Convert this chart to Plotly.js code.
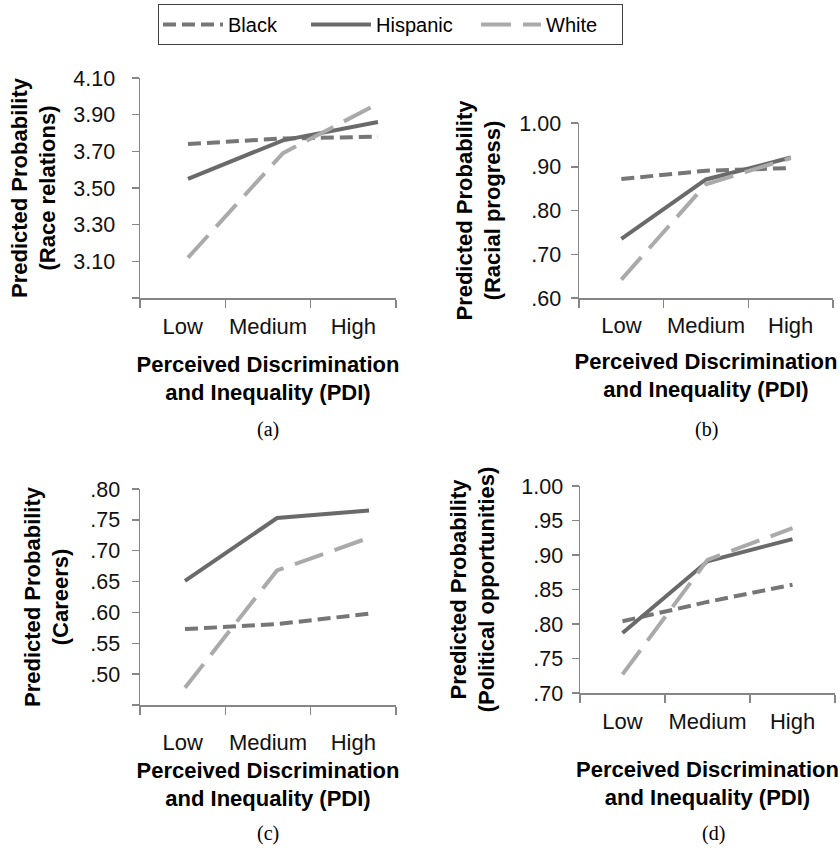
<!DOCTYPE html>
<html><head><meta charset="utf-8">
<script src="https://cdn.plot.ly/plotly-3.0.1.min.js"></script>
<style>html,body{margin:0;padding:0;background:#fff}#chart{width:840px;height:852px}</style>
</head><body><div id="chart"></div>
<script>
const categories = ['Low', 'Medium', 'High'];
const groups = ['Black', 'Hispanic', 'White'];
const xTitle = 'Perceived Discrimination<br>and Inequality (PDI)';
const panelLabels = ['(a)', '(b)', '(c)', '(d)'];

// (a) Race relations
const raceTitle = 'Predicted Probability<br>(Race relations)';
const raceBlack = [3.74, 3.77, 3.78];
const raceHispanic = [3.55, 3.76, 3.86];
const raceWhite = [3.12, 3.69, 3.96];
const raceTicks = [2.9, 3.1, 3.3, 3.5, 3.7, 3.9, 4.1];
const raceTickText = ['', '3.10', '3.30', '3.50', '3.70', '3.90', '4.10'];

// (b) Racial progress
const progressTitle = 'Predicted Probability<br>(Racial progress)';
const progressBlack = [0.872, 0.891, 0.897];
const progressHispanic = [0.735, 0.871, 0.921];
const progressWhite = [0.642, 0.860, 0.920];
const progressTicks = [0.6, 0.7, 0.8, 0.9, 1.0];
const progressTickText = ['.60', '.70', '.80', '.90', '1.00'];

// (c) Careers
const careersTitle = 'Predicted Probability<br>(Careers)';
const careersBlack = [0.573, 0.581, 0.598];
const careersHispanic = [0.651, 0.753, 0.765];
const careersWhite = [0.478, 0.668, 0.721];
const careersTicks = [0.45, 0.50, 0.55, 0.60, 0.65, 0.70, 0.75, 0.80];
const careersTickText = ['', '.50', '.55', '.60', '.65', '.70', '.75', '.80'];

// (d) Political opportunities
const politicalTitle = 'Predicted Probability<br>(Political opportunities)';
const politicalBlack = [0.804, 0.832, 0.857];
const politicalHispanic = [0.787, 0.891, 0.923];
const politicalWhite = [0.727, 0.893, 0.939];
const politicalTicks = [0.70, 0.75, 0.80, 0.85, 0.90, 0.95, 1.00];
const politicalTickText = ['.70', '.75', '.80', '.85', '.90', '.95', '1.00'];

const FONT = 'Liberation Sans, Arial, sans-serif';
const AXC = '#868686';
const styles = {
  Black: {color: '#767676', width: 4, dash: '13px,6px'},
  Hispanic: {color: '#6a6a6a', width: 4, dash: 'solid'},
  White: {color: '#aaaaaa', width: 4, dash: '30px,12px'}
};
const legendWidths = {Black: 73, Hispanic: 95, White: 71};

const data = [];
function addPanel(series, xa, ya, mainX, showLegend) {
  if (mainX) {
    data.push({x: categories, y: [null, null, null], xaxis: mainX, yaxis: ya,
      type: 'scatter', mode: 'lines', showlegend: false, hoverinfo: 'skip'});
  }
  groups.forEach((g, i) => {
    data.push({x: categories, y: series[i], xaxis: xa, yaxis: ya, type: 'scatter',
      mode: 'lines', name: g, line: styles[g], showlegend: showLegend, legendgroup: g,
      legendwidth: legendWidths[g]});
  });
}
addPanel([raceBlack, raceHispanic, raceWhite], 'x5', 'y', 'x', true);
addPanel([progressBlack, progressHispanic, progressWhite], 'x2', 'y2', null, false);
addPanel([careersBlack, careersHispanic, careersWhite], 'x6', 'y3', 'x3', false);
addPanel([politicalBlack, politicalHispanic, politicalWhite], 'x4', 'y4', null, false);

const W = 840, H = 852;
function px(a, b) { return [a / W, b / W]; }
function py(top, bottom) { return [1 - bottom / H, 1 - top / H]; }

function xAxis(domain, anchor, labStand, titleStand) {
  return {domain, anchor, type: 'category', categoryorder: 'array', categoryarray: categories,
    range: [-0.5, 2.5], tickson: 'boundaries', ticks: 'outside', ticklen: 8, tickwidth: 1.5,
    tickangle: 0, tickcolor: AXC, showline: true, linecolor: AXC, linewidth: 1.5, showgrid: false,
    zeroline: false, fixedrange: true, ticklabelstandoff: labStand,
    tickfont: {family: FONT, size: 22, color: '#111'},
    title: {text: xTitle, standoff: titleStand, font: {family: FONT, size: 22, weight: 'bold', color: '#000'}}};
}
function overlayX(over, anchor, range) {
  return {overlaying: over, anchor, type: 'category', categoryorder: 'array', categoryarray: categories,
    range, visible: false, fixedrange: true};
}
function yAxis(domain, anchor, range, tickvals, ticktext, title, labStand, titleStand) {
  return {domain, anchor, range, tickmode: 'array', tickvals, ticktext, ticks: 'outside',
    ticklen: 7, tickwidth: 1.5, tickcolor: AXC, showline: true, linecolor: AXC, linewidth: 1.5,
    showgrid: false, zeroline: false, fixedrange: true, ticklabelstandoff: labStand,
    tickfont: {family: FONT, size: 21.5, color: '#111'},
    title: {text: title, standoff: titleStand, font: {family: FONT, size: 22, weight: 'bold', color: '#000'}}};
}

const layout = {
  width: W, height: H, margin: {l: 0, r: 0, t: 0, b: 0},
  paper_bgcolor: '#fff', plot_bgcolor: 'rgba(0,0,0,0)',
  font: {family: FONT, color: '#000'},
  xaxis: xAxis(px(140, 396), 'y', 8, 18),
  xaxis5: overlayX('x', 'y', [-0.505, 2.19]),
  yaxis: yAxis(py(78, 298), 'x', [2.9, 4.1], raceTicks, raceTickText, raceTitle, 12, 11),
  xaxis2: xAxis(px(579, 833), 'y2', 7, 16),
  yaxis2: yAxis(py(123, 298), 'x2', [0.6, 1.0], progressTicks, progressTickText, progressTitle, 5, 12),
  xaxis3: xAxis(px(140, 396), 'y3', 17, 8),
  xaxis6: overlayX('x3', 'y3', [-0.489, 2.293]),
  yaxis3: yAxis(py(489, 705), 'x3', [0.45, 0.80], careersTicks, careersTickText, careersTitle, 7, 15),
  xaxis4: xAxis(px(580, 835), 'y4', 8, 28),
  yaxis4: yAxis(py(486, 693), 'x4', [0.70, 1.00], politicalTicks, politicalTickText, politicalTitle, 4, 20),
  legend: {orientation: 'h', x: 158 / W, y: 1 - 4 / H, xanchor: 'left', yanchor: 'top',
    bordercolor: '#404040', borderwidth: 1, bgcolor: '#fff', itemwidth: 60,
    font: {family: FONT, size: 20, color: '#000'}},
  annotations: [
    {text: panelLabels[0], x: 268 / W, y: 1 - 430 / H},
    {text: panelLabels[1], x: 706 / W, y: 1 - 430 / H},
    {text: panelLabels[2], x: 268 / W, y: 1 - 833 / H},
    {text: panelLabels[3], x: 713 / W, y: 1 - 833 / H}
  ].map(a => Object.assign(a, {xref: 'paper', yref: 'paper', showarrow: false,
    xanchor: 'center', yanchor: 'middle', font: {family: 'Liberation Serif, Times New Roman, serif', size: 20, color: '#000'}})),
  showlegend: true
};

Plotly.newPlot('chart', data, layout, {staticPlot: true, displayModeBar: false});
</script>
</body></html>
